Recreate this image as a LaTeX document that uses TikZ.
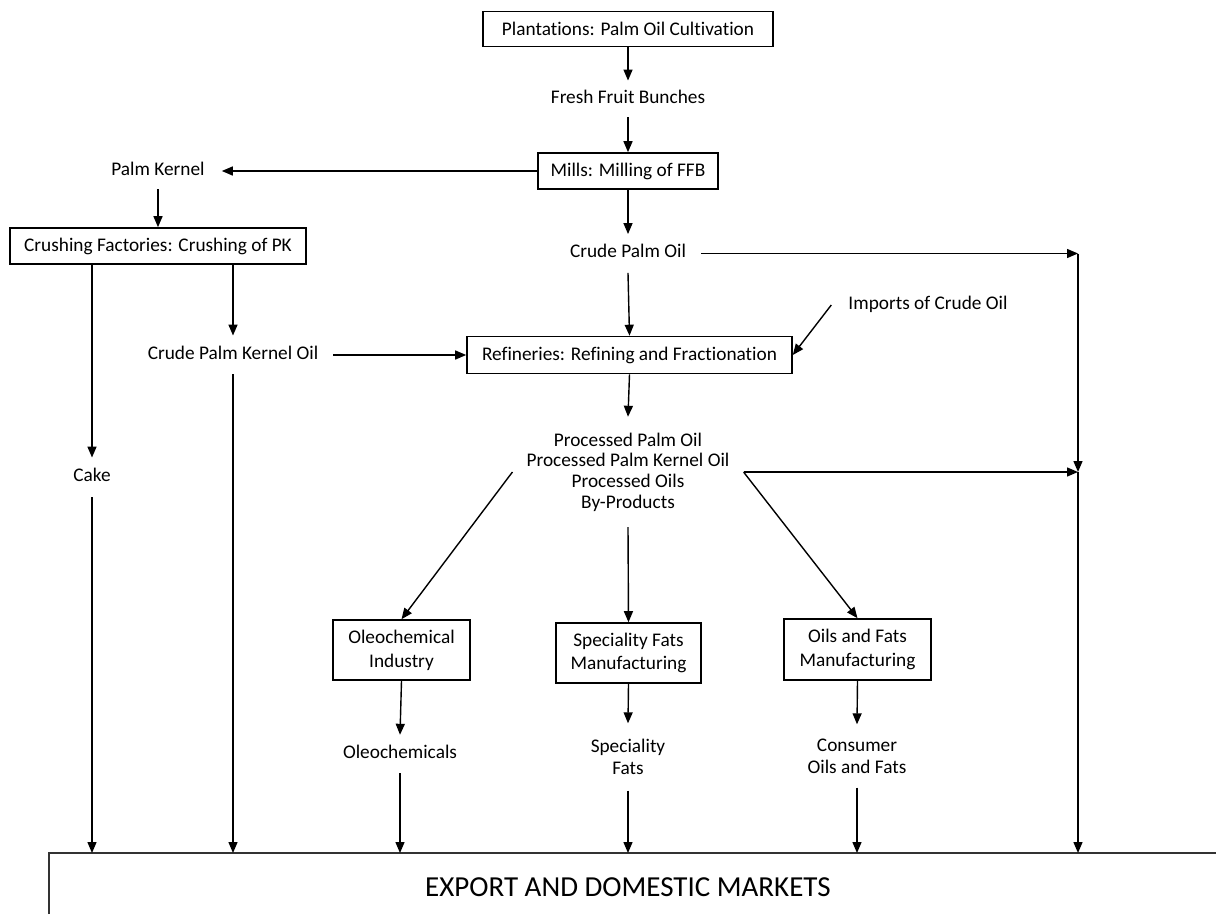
\documentclass[tikz,border=0pt]{standalone}
\usepackage{fontspec}
\setmainfont{Carlito}[Ligatures={NoCommon}]
\usetikzlibrary{arrows.meta,calc}
\begin{document}
\begin{tikzpicture}[x=1pt,y=-1pt,
  font=\fontsize{19.3}{23}\selectfont,
  box/.style={draw,line width=1.6pt,align=center,inner sep=1pt},
  lbl/.style={align=center,inner xsep=15pt,inner ysep=9pt,text height=13.5pt,text depth=5pt},
  mlbl/.style={align=center,inner xsep=15pt,inner ysep=0pt},
  arr/.style={-{Triangle[length=11pt,width=9pt]},line width=1.4pt}]
\useasboundingbox (0,0) rectangle (1216,914);
% boxes
\node[box,minimum width=290pt,minimum height=35pt] (plant) at (628,29) {Plantations: Palm Oil Cultivation};
\node[box,minimum width=180pt,minimum height=36pt] (mills) at (628,171) {Mills: Milling of FFB};
\node[box,minimum width=296pt,minimum height=36pt] (crush) at (158,246) {Crushing Factories: Crushing of PK};
\node[box,minimum width=325pt,minimum height=37pt] (ref) at (629.5,355) {Refineries: Refining and Fractionation};
\node[box,minimum width=137pt,minimum height=60pt,font=\fontsize{19.3}{24}\selectfont] (oleo) at (401.5,650) {Oleochemical\\Industry};
\node[box,minimum width=145pt,minimum height=60pt,font=\fontsize{19.3}{22.5}\selectfont] (spec) at (628.5,653) {Speciality Fats\\Manufacturing};
\node[box,minimum width=147pt,minimum height=61pt,font=\fontsize{19.3}{24}\selectfont] (oilf) at (857.5,649.5) {Oils and Fats\\Manufacturing};
% labels
\node[lbl] (ffb) at (628,99) {Fresh Fruit Bunches};
\node[lbl,inner xsep=17pt] (pk) at (158,171) {Palm Kernel};
\node[lbl,inner ysep=10pt] (cpo) at (628,253.5) {Crude Palm Oil};
\node[lbl,inner ysep=10pt] (cpko) at (233,355) {Crude Palm Kernel Oil};
\node[lbl,inner xsep=17pt] (imp) at (928,305) {Imports of Crude Oil};
\node[mlbl,inner xsep=14pt,minimum height=110pt,font=\fontsize{19.3}{20.7}\selectfont] (proc) at (628,472) {Processed Palm Oil\\Processed Palm Kernel Oil\\Processed Oils\\By-Products};
\node[lbl,inner ysep=10.5pt] (cake) at (92,477.5) {Cake};
\node[lbl,inner ysep=9.75pt] (olch) at (400,754) {Oleochemicals};
\node[mlbl,minimum height=67pt,font=\fontsize{19.3}{22}\selectfont] (sfat) at (628,757) {Speciality\\Fats};
\node[mlbl,minimum height=63pt,font=\fontsize{19.3}{22}\selectfont] (cons) at (857,756) {Consumer\\Oils and Fats};
% markets
\draw[line width=1.2pt,draw=black!80] (49,914) -- (49,853) -- (1216,853);
\coordinate (mtop) at (600,853);
\node[font=\fontsize{29}{32}\selectfont] (mkt) at (628,887) {EXPORT AND DOMESTIC MARKETS};
\coordinate (rt) at (1078,253.5);
\coordinate (rm) at (1078,472);
% arrows
\draw[arr] (plant.south) -- (ffb.north);
\draw[arr] (ffb.south) -- (mills.north);
\draw[arr] (mills.west) -- (pk.east);
\draw[arr] (pk.south) -- (crush.north);
\draw[arr] (crush.south -| cake) -- (cake.north);
\draw[arr] (crush.south -| cpko) -- (cpko.north);
\draw[arr] (mills.south) -- (cpo.north);
\draw[arr] (cpo.east) -- (rt);
\draw[arr] (rt) -- (rm);
\draw[arr] (proc.east) -- (rm);
\draw[arr] (rm) -- (rm |- mtop);
\draw[arr] (cpo.south) -- (ref.north);
\draw[arr] (cpko.east) -- (ref.west);
\draw[arr] (imp.west) -- (ref.east);
\draw[arr] (ref.south) -- (proc.north);
\draw[arr] (proc.west) -- (oleo.north);
\draw[arr] (proc.south) -- (spec.north);
\draw[arr] (proc.east) -- (oilf.north);
\draw[arr] (oleo.south) -- (olch.north);
\draw[arr] (spec.south) -- (sfat.north);
\draw[arr] (oilf.south) -- (cons.north);
\draw[arr] (cake.south) -- (cake.south |- mtop);
\draw[arr] (cpko.south) -- (cpko.south |- mtop);
\draw[arr] (olch.south) -- (olch.south |- mtop);
\draw[arr] (sfat.south) -- (sfat.south |- mtop);
\draw[arr] (cons.south) -- (cons.south |- mtop);
\end{tikzpicture}
\end{document}
